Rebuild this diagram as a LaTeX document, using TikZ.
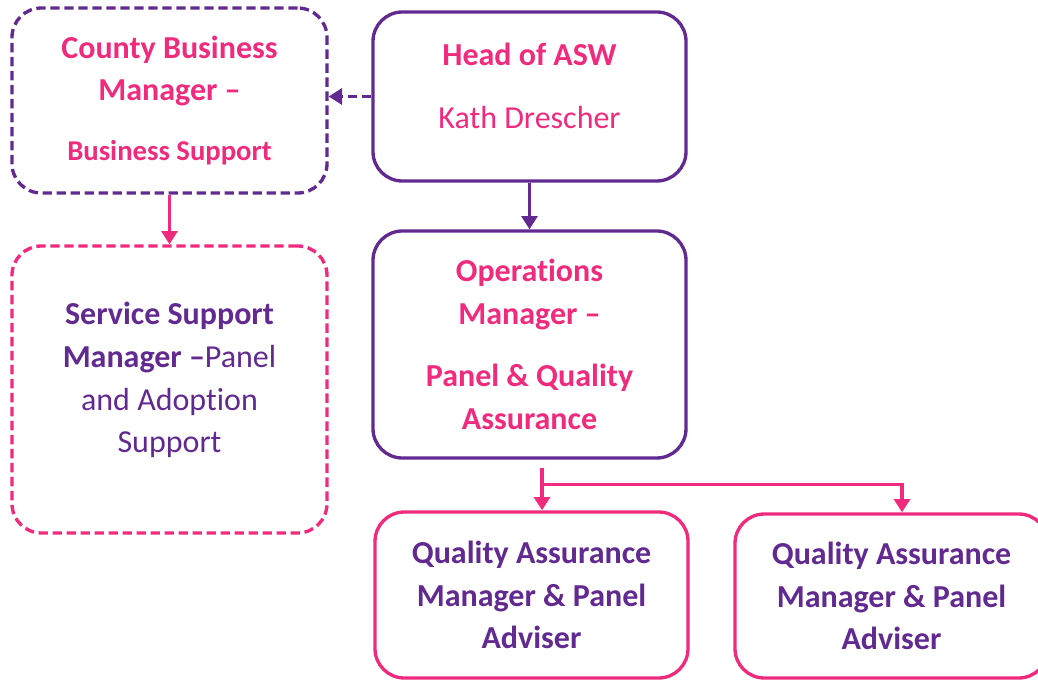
\documentclass[tikz,border=0pt]{standalone}
\usepackage{fontspec}
\setmainfont{Carlito}[Ligatures=NoCommon]
\usetikzlibrary{arrows.meta}
\definecolor{aswpurple}{RGB}{98,42,145}
\definecolor{aswpink}{RGB}{240,43,125}

\begin{document}
\begin{tikzpicture}[x=0.75pt,y=-0.75pt,
    orgbox/.style={draw,line width=2.5pt,rounded corners=22pt,align=center,inner sep=0pt},
    dashbox/.style={orgbox,dash pattern=on 7pt off 3.5pt},
    link/.style={line width=2.4pt,-{Triangle[length=10pt,width=12pt]}}]
    \pgfmathsetmacro{\boxwidth}{313*0.75}
    \pgfmathsetmacro{\sidewidth}{315*0.75}
    \providecommand{\mainfontsize}{\fontsize{24}{32}\selectfont}
    \providecommand{\smallerfontsize}{\fontsize{21.5}{32}\selectfont}
    \useasboundingbox (0,0) rectangle (1038,681);
    % left column
    \node[dashbox,draw=aswpurple,text=aswpink,font=\mainfontsize\bfseries,
        minimum width=\sidewidth pt,minimum height=138.75pt] (county) at (169.5,100.5)
        {County Business\\Manager --\\[13pt]{\smallerfontsize Business Support}};
    \node[dashbox,draw=aswpink,text=aswpurple,font=\mainfontsize,
        minimum width=\sidewidth pt,minimum height=215.25pt] (service) at (169.5,389.5)
        {\textbf{Service Support}\\\textbf{Manager --}Panel\\and Adoption\\Support\\[-14pt]\mbox{}};
    % right column
    \node[orgbox,draw=aswpurple,text=aswpink,font=\mainfontsize,
        minimum width=\boxwidth pt,minimum height=126.75pt] (head) at (529.5,96.5)
        {\textbf{Head of ASW}\\[15pt]Kath Drescher\\[-16pt]\mbox{}};
    \node[orgbox,draw=aswpurple,text=aswpink,font=\mainfontsize\bfseries,
        minimum width=\boxwidth pt,minimum height=170.25pt] (ops) at (529.5,344.5)
        {Operations\\Manager --\\[15pt]Panel \& Quality\\Assurance};
    \node[orgbox,draw=aswpink,text=aswpurple,font=\mainfontsize\bfseries,
        minimum width=\boxwidth pt,minimum height=124.5pt] (qa1) at (531.5,595)
        {Quality Assurance\\Manager \& Panel\\Adviser};
    \node[orgbox,draw=aswpink,text=aswpurple,font=\mainfontsize\bfseries,
        minimum width=\boxwidth pt,minimum height=123pt] (qa2) at (891.5,596)
        {Quality Assurance\\Manager \& Panel\\Adviser};
    % connectors
    \draw[link,aswpurple,dash pattern=on 7pt off 3.5pt] (head.west) -- (head.west -| county.east);
    \draw[link,aswpurple] (head) -- (ops);
    \draw[link,aswpink] (county) -- (service);
    \draw[link,aswpink] ([xshift=9.4pt,yshift=-6pt]ops.south) coordinate (opsout) -- (opsout |- qa1.north);
    \draw[link,aswpink] ([yshift=-12.75pt]opsout) -| ([xshift=7.9pt]qa2.north);
\end{tikzpicture}
\end{document}
